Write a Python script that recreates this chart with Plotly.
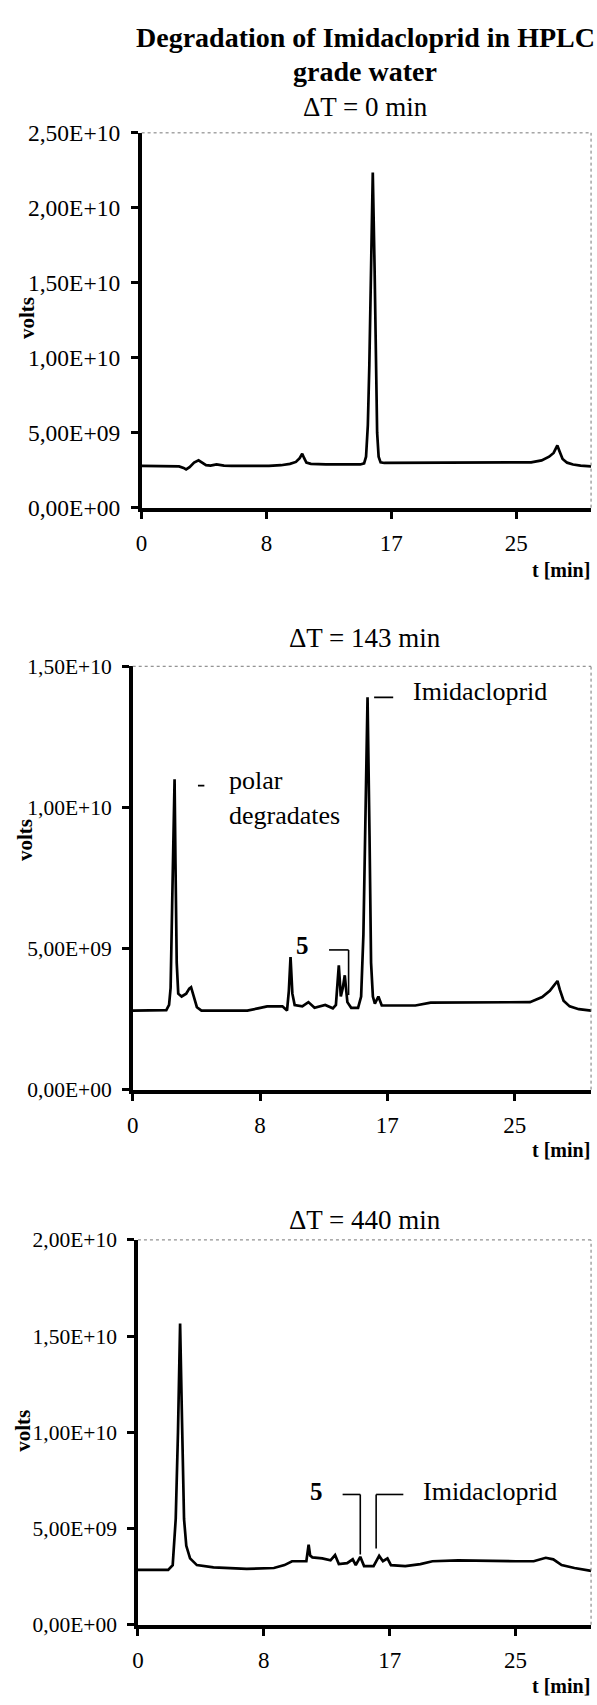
import plotly.graph_objects as go

W, H = 597, 1705
E9 = 1e9

# ---------------- data (retention time in min, signal in 1e9 volts) -------------
t1 = [0, 1.5, 2.5, 2.8, 2.97, 3.2, 3.5, 3.8, 4.05, 4.3, 4.6, 5.0, 5.5, 6.0, 8.5, 9.3, 9.9, 10.3, 10.55,
      10.72, 10.85, 11.0, 11.3, 12.3, 14.6, 14.85, 14.98, 15.1, 15.2, 15.3, 15.43, 15.55, 15.63, 15.72,
      15.82, 15.95, 16.2, 20, 24, 26.0, 26.7, 27.2, 27.5, 27.75, 27.9, 28.1, 28.4, 28.8, 29.3, 30]
v1 = [2.78, 2.78, 2.75, 2.65, 2.55, 2.7, 3.0, 3.15, 3.0, 2.83, 2.8, 2.88, 2.8, 2.78, 2.78, 2.83, 2.92, 3.05,
      3.3, 3.6, 3.3, 3.0, 2.92, 2.88, 2.88, 2.95, 3.4, 5.5, 9.5, 16.0, 22.35, 16.0, 10.0, 5.0,
      3.4, 3.02, 2.98, 3.0, 3.0, 3.02, 3.15, 3.4, 3.65, 4.15, 3.75, 3.25, 3.0, 2.88, 2.8, 2.75]

t2 = [0, 2.2, 2.38, 2.48, 2.58, 2.68, 2.74, 2.80, 2.88, 2.98, 3.2, 3.5, 3.7, 3.82, 4.0, 4.2, 4.5, 7.5, 8.2,
      8.8, 9.8, 10.1, 10.22, 10.33, 10.45, 10.6, 11.1, 11.5, 11.9, 12.6, 13.1, 13.3, 13.49, 13.62, 13.75,
      13.88, 14.05, 14.3, 14.75, 14.95, 15.1, 15.22, 15.37, 15.5, 15.6, 15.72, 15.85, 16.08, 16.3, 18.5,
      19.5, 26.0, 26.8, 27.3, 27.6, 27.8, 27.95, 28.2, 28.6, 29.2, 30]
v2 = [2.8, 2.82, 3.0, 3.6, 6.5, 10.0, 11.0, 8.0, 4.5, 3.4, 3.3, 3.4, 3.58, 3.63, 3.3, 2.92, 2.8, 2.8, 2.88,
      2.95, 2.95, 2.8, 3.5, 4.7, 3.4, 3.0, 2.95, 3.1, 2.9, 3.0, 2.88, 3.0, 4.4, 3.3, 3.6,
      4.05, 3.1, 2.9, 2.9, 3.3, 5.5, 9.5, 13.9, 9.0, 4.5, 3.3, 3.05, 3.3, 2.98, 2.98,
      3.08, 3.1, 3.28, 3.5, 3.7, 3.85, 3.55, 3.15, 2.95, 2.85, 2.8]

t3 = [0, 2.0, 2.3, 2.5, 2.65, 2.79, 2.92, 3.05, 3.2, 3.45, 3.9, 5.0, 7.2, 9.0, 9.7, 10.2, 11.15, 11.3,
      11.4, 11.55, 12.2, 12.75, 13.05, 13.3, 13.85, 14.22, 14.42, 14.72, 14.97, 15.6, 15.97, 16.22,
      16.52, 16.75, 17.7, 18.7, 19.5, 21.2, 25.0, 26.2, 27.0, 27.5, 28.05, 28.9, 30]
v3 = [2.85, 2.85, 3.1, 5.5, 10.0, 15.65, 10.5, 5.5, 4.1, 3.45, 3.1, 2.98, 2.9, 2.95, 3.1, 3.3, 3.3, 4.16,
      3.6, 3.5, 3.45, 3.35, 3.62, 3.15, 3.2, 3.4, 3.1, 3.53, 3.05, 3.05, 3.58, 3.3,
      3.45, 3.1, 3.05, 3.15, 3.3, 3.35, 3.3, 3.3, 3.48, 3.4, 3.1, 2.95, 2.8]

x_tickvals = [0, 25 / 3, 50 / 3, 25]
x_ticktext = ["0", "8", "17", "25"]
y1_tickvals = [0, 5e9, 1e10, 1.5e10, 2e10, 2.5e10]
y1_ticktext = ["0,00E+00", "5,00E+09", "1,00E+10", "1,50E+10", "2,00E+10", "2,50E+10"]
y2_tickvals = [0, 5e9, 1e10, 1.5e10]
y2_ticktext = ["0,00E+00", "5,00E+09", "1,00E+10", "1,50E+10"]
y3_tickvals = [0, 5e9, 1e10, 1.5e10, 2e10]
y3_ticktext = ["0,00E+00", "5,00E+09", "1,00E+10", "1,50E+10", "2,00E+10"]

panel_titles = ["ΔT = 0 min", "ΔT = 143 min", "ΔT = 440 min"]
main_title = ["Degradation of Imidacloprid in HPLC", "grade water"]

# annotation anchors (min, 1e9 volts)
p2_polar_dash = ([4.27, 4.69], [10.77, 10.77])
p2_imid_dash = ([15.8, 17.05], [13.9, 13.9])
p2_five_leader = ([12.85, 14.13, 14.13], [4.95, 4.95, 3.35])
p3_five_leader = ([13.55, 14.72, 14.72], [6.77, 6.77, 3.65])
p3_imid_leader = ([17.57, 15.77, 15.77], [6.77, 6.77, 3.96])

# ---------------- layout geometry (pixels) ----------------
def px(x):
    return x / W

def py(y):
    return 1 - y / H

panels = [
    dict(x0=137, top=121.7, bot=502.3, ymax=2.5e10, tv=y1_tickvals, tt=y1_ticktext, yfs=23.5, title_y=95,
         volts=(21, 310), tmin_y=566),
    dict(x0=128, top=663.4, bot=1093.3, ymax=1.5e10, tv=y2_tickvals, tt=y2_ticktext, yfs=21.5, title_y=635,
         volts=(19, 840), tmin_y=1155),
    dict(x0=133.3, top=1245.9, bot=1636.7, ymax=2.0e10, tv=y3_tickvals, tt=y3_ticktext, yfs=21.5, title_y=1226,
         volts=(17, 1440), tmin_y=1699),
]
X1 = 591
SERIF = "Liberation Serif"

fig = go.Figure()
data = [(t1, v1), (t2, v2), (t3, v3)]
layout = dict(width=W, height=H, margin=dict(l=0, r=0, t=0, b=0), plot_bgcolor="white",
              paper_bgcolor="white", showlegend=False, font=dict(family=SERIF, color="black"))
annotations = []
shapes = []
for i, (p, (tt, vv)) in enumerate(zip(panels, data)):
    n = "" if i == 0 else str(i + 1)
    fig.add_trace(go.Scatter(x=tt, y=[v * E9 for v in vv], mode="lines",
                             line=dict(color="black", width=2.7), xaxis="x" + n, yaxis="y" + n,
                             hoverinfo="skip"))
    layout["xaxis" + n] = dict(domain=[px(p["x0"]), px(X1)], range=[0, 30], anchor="y" + n,
                               tickmode="array", tickvals=x_tickvals, ticktext=x_ticktext,
                               ticks="outside", ticklen=8, tickwidth=2.5, tickcolor="black",
                               showline=True, linewidth=3.5, linecolor="black", showgrid=False,
                               zeroline=False, tickfont=dict(family=SERIF, size=23, color="black"),
                               ticklabelstandoff=4)
    layout["yaxis" + n] = dict(domain=[py(p["bot"]), py(p["top"])], range=[0, p["ymax"]], anchor="x" + n,
                               tickmode="array", tickvals=p["tv"], ticktext=p["tt"],
                               ticks="outside", ticklen=7, tickwidth=2.5, tickcolor="black",
                               showline=True, linewidth=3.5, linecolor="black", showgrid=False,
                               zeroline=False, tickfont=dict(family=SERIF, size=p["yfs"], color="black"),
                               ticklabelstandoff=6)
    # dotted top and right frame
    shapes.append(dict(type="line", xref="x%s domain" % n, yref="y%s domain" % n, x0=0, x1=1, y0=1, y1=1,
                       line=dict(color="#777", width=1, dash="dot")))
    shapes.append(dict(type="line", xref="x%s domain" % n, yref="y%s domain" % n, x0=1, x1=1, y0=0, y1=1,
                       line=dict(color="#777", width=1, dash="dot")))
    # panel title
    annotations.append(dict(text=panel_titles[i], xref="paper", yref="paper", x=px(363), y=py(p["title_y"]),
                            xanchor="center", yanchor="middle", showarrow=False,
                            font=dict(family=SERIF, size=27, color="black")))
    # y axis title
    annotations.append(dict(text="<b>volts</b>", xref="paper", yref="paper", x=px(p["volts"][0]),
                            y=py(p["volts"][1]), xanchor="center", yanchor="middle", textangle=-90,
                            showarrow=False, font=dict(family=SERIF, size=21, color="black")))
    # x axis title
    annotations.append(dict(text="<b>t [min]</b>", xref="paper", yref="paper", x=px(592), y=py(p["tmin_y"]),
                            xanchor="right", yanchor="middle", showarrow=False,
                            font=dict(family=SERIF, size=20, color="black")))

annotations.append(dict(text="<b>%s</b>" % main_title[0], xref="paper", yref="paper", x=px(363), y=py(25),
                        xanchor="center", yanchor="middle", showarrow=False,
                        font=dict(family=SERIF, size=28, color="black")))
annotations.append(dict(text="<b>%s</b>" % main_title[1], xref="paper", yref="paper", x=px(363), y=py(59),
                        xanchor="center", yanchor="middle", showarrow=False,
                        font=dict(family=SERIF, size=28, color="black")))

# leader lines (data coordinates)
def poly(xs, ys, n):
    for k in range(len(xs) - 1):
        shapes.append(dict(type="line", xref="x" + n, yref="y" + n, x0=xs[k], x1=xs[k + 1],
                           y0=ys[k] * E9, y1=ys[k + 1] * E9, line=dict(color="black", width=1.6)))

poly(*p2_polar_dash, "2")
poly(*p2_imid_dash, "2")
poly(*p2_five_leader, "2")
poly(*p3_five_leader, "3")
poly(*p3_imid_leader, "3")

def label(text, x, y, n, size=26, anchor="left"):
    annotations.append(dict(text=text, xref="x" + n, yref="y" + n, x=x, y=y * E9, xanchor=anchor,
                            yanchor="middle", showarrow=False,
                            font=dict(family=SERIF, size=size, color="black")))

label("polar", 6.16, 10.95, "2")
label("degradates", 6.16, 9.72, "2")
label("Imidacloprid", 18.2, 14.1, "2")
label("<b>5</b>", 11.12, 5.1, "2", size=25, anchor="center")
label("<b>5</b>", 11.85, 6.95, "3", size=25, anchor="center")
label("Imidacloprid", 18.75, 6.95, "3")

layout["annotations"] = annotations
layout["shapes"] = shapes
fig.update_layout(**layout)
fig.write_html("out.html")
